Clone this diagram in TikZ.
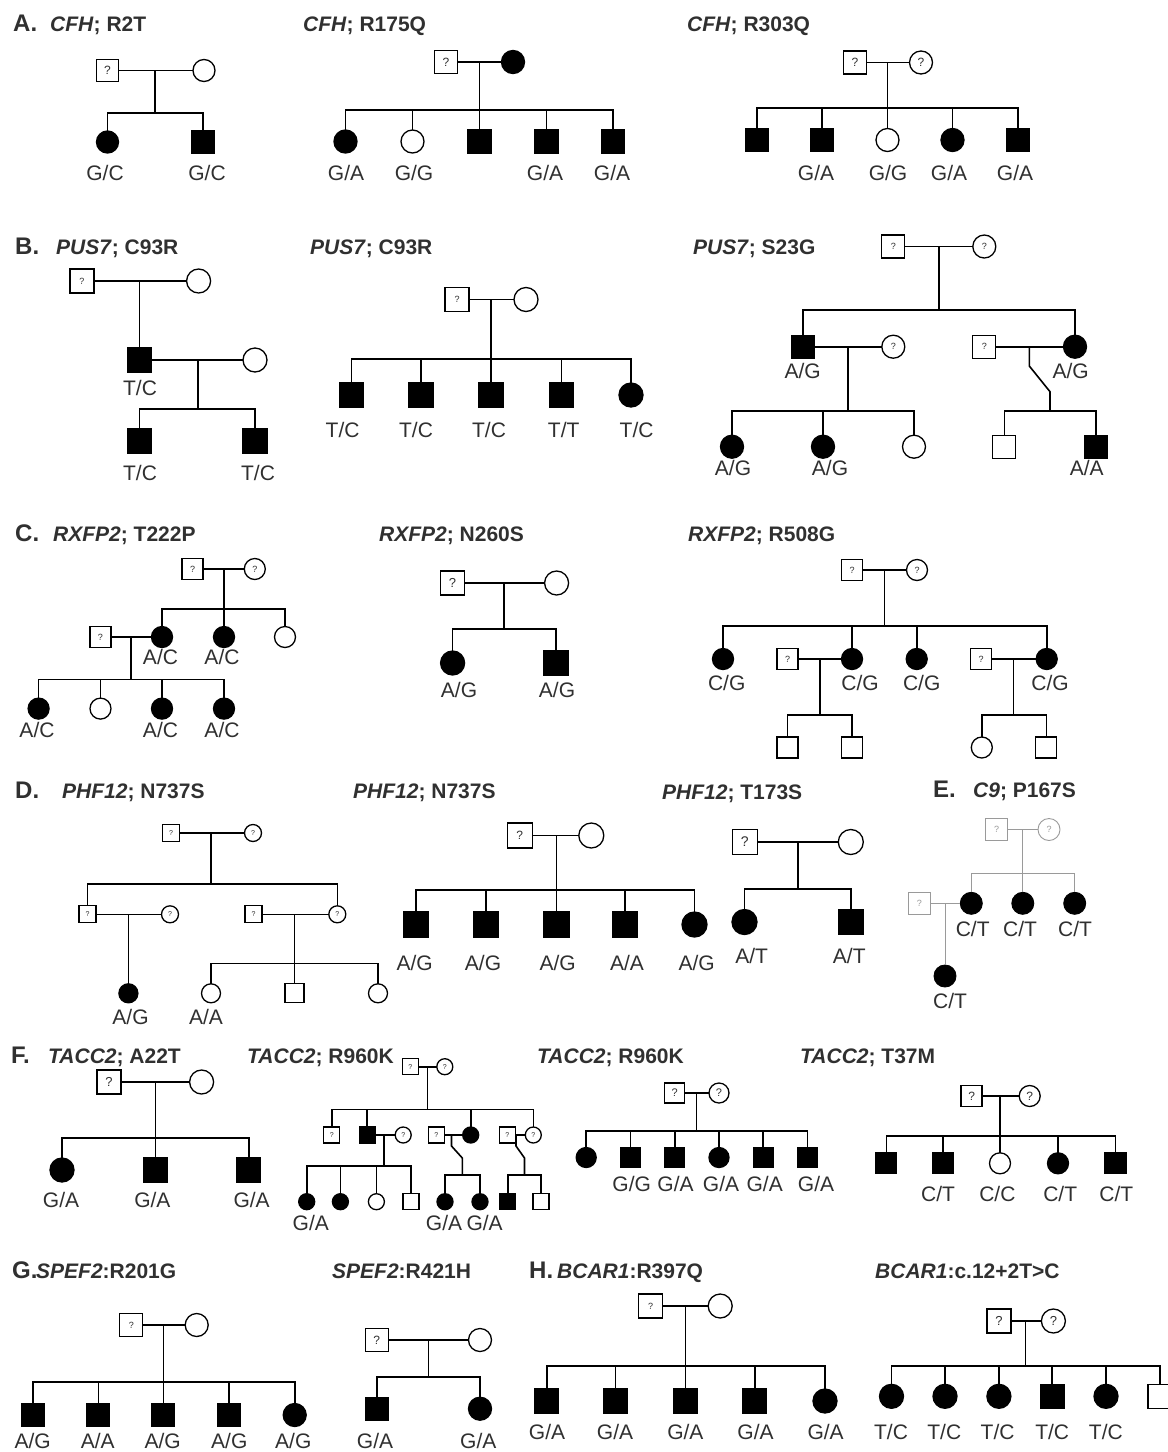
\documentclass[tikz,border=0pt]{standalone}
\usepackage{fontspec}
\setmainfont{Liberation Sans}
\definecolor{txt}{HTML}{303030}
\definecolor{gry}{HTML}{9A9A9A}
\tikzset{
  sym/.style={draw=black, line width=1.3pt, inner sep=0pt, outer sep=0pt},
  msq/.style={sym, rectangle, minimum size=#1, fill=white},
  msqf/.style={sym, rectangle, minimum size=#1, fill=black},
  fci/.style={sym, circle, minimum size=#1, fill=white},
  fcif/.style={sym, circle, minimum size=#1, fill=black},
  qm/.style={font=\fontsize{#1}{#1}\selectfont, text=txt},
  ln/.style={line width=1.6pt},
  lbl/.style={font=\fontsize{21}{21}\selectfont, text=txt, anchor=base, inner sep=0pt},
  ttl/.style={font=\fontsize{21}{21}\selectfont\bfseries, text=txt, anchor=base west, inner sep=0pt},
  panel/.style={font=\fontsize{24}{24}\selectfont\bfseries, text=txt, anchor=base west, inner sep=0pt},
}
\newcommand{\drops}[2]{\foreach \k in {#2} {\draw[ln] (\k.north) -- (\k.north |- #1);}}
\begin{document}
\begin{tikzpicture}[x=1pt,y=-1pt]
\path[use as bounding box, fill=white] (0,0) rectangle (1168,1452);

% ================= A =================
\node[panel] (tA) at (13,31) {A.};
\node[ttl] (tA1) at (50,31) {\textit{CFH}; R2T};
\node[ttl] (tA2) at (303,31) {\textit{CFH}; R175Q};
\node[ttl] (tA3) at (687,31) {\textit{CFH}; R303Q};

% A1
\node[msq=22, qm=12] (a1f) at (107.5,70.5) {?};
\node[fci=22] (a1m) at (204,70.5) {};
\draw[ln] (a1f) -- (a1m);
\coordinate (a1d) at (155,70.5);
\coordinate (a1s) at (155,113);
\draw[ln] (a1d) -- (a1s);
\node[fcif=22] (a1c1) at (107.5,142) {};
\node[msqf=22] (a1c2) at (203,142) {};
\draw[ln] (a1c1.north) |- (a1s) -| (a1c2.north);
\node[lbl] (a1g1) at (105,180) {G/C};
\node[lbl] (a1g2) at (207,180) {G/C};

% A2
\node[msq=23, qm=12] (a2f) at (446,62) {?};
\node[fcif=23] (a2m) at (513,62) {};
\draw[ln] (a2f) -- (a2m);
\coordinate (a2d) at (479.5,62);
\coordinate (a2s) at (479.5,110);
\draw[ln] (a2d) -- (a2s);
\node[fcif=23] (a2c1) at (345.5,141.5) {};
\node[fci=23] (a2c2) at (412.5,141.5) {};
\node[msqf=23] (a2c3) at (479.5,141.5) {};
\node[msqf=23] (a2c4) at (546.5,141.5) {};
\node[msqf=23] (a2c5) at (613,141.5) {};
\draw[ln] (a2c1.north) |- (a2s) -| (a2c5.north);
\drops{a2s}{a2c2,a2c3,a2c4}
\node[lbl] (a2g1) at (346,180) {G/A};
\node[lbl] (a2g2) at (414,180) {G/G};
\node[lbl] (a2g4) at (545,180) {G/A};
\node[lbl] (a2g5) at (612,180) {G/A};

% A3
\node[msq=23, qm=12] (a3f) at (855,62.5) {?};
\node[fci=23, qm=12] (a3m) at (921,62.5) {?};
\draw[ln] (a3f) -- (a3m);
\coordinate (a3d) at (887.5,62.5);
\coordinate (a3s) at (887.5,108);
\draw[ln] (a3d) -- (a3s);
\node[msqf=23] (a3c1) at (757,140) {};
\node[msqf=23] (a3c2) at (822,140) {};
\node[fci=23] (a3c3) at (887.5,140) {};
\node[fcif=23] (a3c4) at (952.5,140) {};
\node[msqf=23] (a3c5) at (1018,140) {};
\draw[ln] (a3c1.north) |- (a3s) -| (a3c5.north);
\drops{a3s}{a3c2,a3c3,a3c4}
\node[lbl] (a3g2) at (816,180) {G/A};
\node[lbl] (a3g3) at (888,180) {G/G};
\node[lbl] (a3g4) at (949,180) {G/A};
\node[lbl] (a3g5) at (1015,180) {G/A};

% ================= B =================
\node[panel] (tB) at (15,254) {B.};
\node[ttl] (tB1) at (56,254) {\textit{PUS7}; C93R};
\node[ttl] (tB2) at (310,254) {\textit{PUS7}; C93R};
\node[ttl] (tB3) at (693,254) {\textit{PUS7}; S23G};

% B1
\node[msq=24, qm=9] (b1f) at (82,281) {?};
\node[fci=24] (b1m) at (198.6,281) {};
\draw[ln] (b1f) -- (b1m);
\coordinate (b1d) at (139.5,281);
\node[msqf=24] (b1s) at (139.5,360) {};
\draw[ln] (b1d) -- (b1s.north);
\node[fci=24] (b1w) at (255,360) {};
\draw[ln] (b1s) -- (b1w);
\coordinate (b1d2) at (198,360);
\coordinate (b1s2) at (198,409);
\draw[ln] (b1d2) -- (b1s2);
\node[msqf=24] (b1c1) at (139.5,441) {};
\node[msqf=24] (b1c2) at (255,441) {};
\draw[ln] (b1c1.north) |- (b1s2) -| (b1c2.north);
\node[lbl] (b1g0) at (140,395) {T/C};
\node[lbl] (b1g1) at (140,480) {T/C};
\node[lbl] (b1g2) at (258,480) {T/C};

% B2
\node[msq=24, qm=9] (b2f) at (457,299.5) {?};
\node[fci=24] (b2m) at (526,299.5) {};
\draw[ln] (b2f) -- (b2m);
\coordinate (b2d) at (491,299.5);
\coordinate (b2s) at (491,359);
\draw[ln] (b2d) -- (b2s);
\node[msqf=24] (b2c1) at (351.5,395) {};
\node[msqf=24] (b2c2) at (421,395) {};
\node[msqf=24] (b2c3) at (491,395) {};
\node[msqf=24] (b2c4) at (561.6,395) {};
\node[fcif=24] (b2c5) at (631,395) {};
\draw[ln] (b2c1.north) |- (b2s) -| (b2c5.north);
\drops{b2s}{b2c2,b2c3,b2c4}
\node[lbl] (b2g1) at (342.6,437) {T/C};
\node[lbl] (b2g2) at (416,437) {T/C};
\node[lbl] (b2g3) at (489,437) {T/C};
\node[lbl] (b2g4) at (563.7,437) {T/T};
\node[lbl] (b2g5) at (636.6,437) {T/C};

% B3
\node[msq=23, qm=9] (b3f) at (893.3,246.5) {?};
\node[fci=23, qm=9] (b3m) at (984.3,246.5) {?};
\draw[ln] (b3f) -- (b3m);
\coordinate (b3d) at (938.7,246.5);
\coordinate (b3s) at (938.7,310);
\draw[ln] (b3d) -- (b3s);
\node[msqf=23] (b3c1) at (802.8,346.7) {};
\node[fci=23, qm=9] (b3w) at (893.3,346.7) {?};
\node[msq=23, qm=9] (b3h) at (984.3,346.7) {?};
\node[fcif=23] (b3c2) at (1075,346.7) {};
\draw[ln] (b3c1.north) |- (b3s) -| (b3c2.north);
\draw[ln] (b3c1) -- (b3w);
\draw[ln] (b3h) -- (b3c2);
\coordinate (b3d2) at (847.7,346.7);
\coordinate (b3s2) at (847.7,410.7);
\draw[ln] (b3d2) -- (b3s2);
\node[fcif=23] (b3k1) at (732,446.7) {};
\node[fcif=23] (b3k2) at (823,446.7) {};
\node[fci=23] (b3k3) at (914,446.7) {};
\draw[ln] (b3k1.north) |- (b3s2) -| (b3k3.north);
\drops{b3s2}{b3k2}
\coordinate (b3d3) at (1029.3,346.7);
\coordinate (b3e1) at (1029.3,366);
\coordinate (b3e2) at (1050,391.7);
\coordinate (b3s3) at (1050,410.7);
\draw[ln] (b3d3) -- (b3e1) -- (b3e2) -- (b3s3);
\node[msq=23] (b3k4) at (1004.3,446.7) {};
\node[msqf=23] (b3k5) at (1095.8,446.7) {};
\draw[ln] (b3k4.north) |- (b3s3) -| (b3k5.north);
\node[lbl] (b3g1) at (802.7,378.7) {A/G};
\node[lbl] (b3g2) at (1070.7,378.7) {A/G};
\node[lbl] (b3g3) at (733,475) {A/G};
\node[lbl] (b3g4) at (830,475) {A/G};
\node[lbl] (b3g5) at (1086.7,475) {A/A};

% ================= C =================
\node[panel] (tC) at (15,541) {C.};
\node[ttl] (tC1) at (53,541) {\textit{RXFP2}; T222P};
\node[ttl] (tC2) at (379,541) {\textit{RXFP2}; N260S};
\node[ttl] (tC3) at (688,541) {\textit{RXFP2}; R508G};

% C1
\node[msq=21, qm=9] (c1f) at (192.6,569) {?};
\node[fci=21, qm=9] (c1m) at (254.8,569) {?};
\draw[ln] (c1f) -- (c1m);
\coordinate (c1d) at (224,569);
\coordinate (c1s) at (224,609);
\draw[ln] (c1d) -- (c1s);
\node[fcif=21] (c1c1) at (162,637) {};
\node[fcif=21] (c1c2) at (224,637) {};
\node[fci=21] (c1c3) at (285,637) {};
\draw[ln] (c1c1.north) |- (c1s) -| (c1c3.north);
\drops{c1s}{c1c2}
\node[msq=21, qm=9] (c1h) at (100.5,637) {?};
\draw[ln] (c1h) -- (c1c1);
\coordinate (c1d2) at (131,637);
\coordinate (c1s2) at (131,679.3);
\draw[ln] (c1d2) -- (c1s2);
\node[fcif=21] (c1k1) at (38.6,708.6) {};
\node[fci=21] (c1k2) at (100.5,708.6) {};
\node[fcif=21] (c1k3) at (162,708.6) {};
\node[fcif=21] (c1k4) at (224,708.6) {};
\draw[ln] (c1k1.north) |- (c1s2) -| (c1k4.north);
\drops{c1s2}{c1k2,c1k3}
\node[lbl] (c1g1) at (160.5,664) {A/C};
\node[lbl] (c1g2) at (222,664) {A/C};
\node[lbl] (c1g3) at (37,737) {A/C};
\node[lbl] (c1g4) at (160.5,737) {A/C};
\node[lbl] (c1g5) at (222,737) {A/C};

% C2
\node[msq=24, qm=13] (c2f) at (452.6,583) {?};
\node[fci=24] (c2m) at (556.6,583) {};
\draw[ln] (c2f) -- (c2m);
\coordinate (c2d) at (504,583);
\coordinate (c2s) at (504,629);
\draw[ln] (c2d) -- (c2s);
\node[fcif=24] (c2c1) at (452.6,663) {};
\node[msqf=24] (c2c2) at (556,663) {};
\draw[ln] (c2c1.north) |- (c2s) -| (c2c2.north);
\node[lbl] (c2g1) at (459,697) {A/G};
\node[lbl] (c2g2) at (557,697) {A/G};

% C3
\node[msq=21, qm=9] (c3f) at (852,570) {?};
\node[fci=21, qm=9] (c3m) at (917,570) {?};
\draw[ln] (c3f) -- (c3m);
\coordinate (c3d) at (884.3,570);
\coordinate (c3s) at (884.3,626);
\draw[ln] (c3d) -- (c3s);
\node[fcif=21] (c3c1) at (723,659) {};
\node[msq=21, qm=9] (c3h1) at (787.5,659) {?};
\node[fcif=21] (c3c2) at (852,659) {};
\node[fcif=21] (c3c3) at (916.7,659) {};
\node[msq=21, qm=9] (c3h2) at (981,659) {?};
\node[fcif=21] (c3c4) at (1046.7,659) {};
\draw[ln] (c3c1.north) |- (c3s) -| (c3c4.north);
\drops{c3s}{c3c2,c3c3}
\draw[ln] (c3h1) -- (c3c2);
\draw[ln] (c3h2) -- (c3c4);
\coordinate (c3d2) at (820,659);
\coordinate (c3s2) at (820,715);
\draw[ln] (c3d2) -- (c3s2);
\coordinate (c3d3) at (1013.3,659);
\coordinate (c3s3) at (1013.3,715);
\draw[ln] (c3d3) -- (c3s3);
\node[msq=21] (c3k1) at (787.5,747.5) {};
\node[msq=21] (c3k2) at (852,747.5) {};
\node[fci=21] (c3k3) at (981.8,747.5) {};
\node[msq=21] (c3k4) at (1046.3,747.5) {};
\draw[ln] (c3k1.north) |- (c3s2) -| (c3k2.north);
\draw[ln] (c3k3.north) |- (c3s3) -| (c3k4.north);
\node[lbl] (c3g1) at (726.7,690) {C/G};
\node[lbl] (c3g2) at (860,690) {C/G};
\node[lbl] (c3g3) at (921.7,690) {C/G};
\node[lbl] (c3g4) at (1050,690) {C/G};

% ================= D / E =================
\node[panel] (tD) at (15,798) {D.};
\node[ttl] (tD1) at (62,798) {\textit{PHF12}; N737S};
\node[ttl] (tD2) at (353,798) {\textit{PHF12}; N737S};
\node[ttl] (tD3) at (662,799) {\textit{PHF12}; T173S};
\node[panel] (tE) at (933,797) {E.};
\node[ttl] (tE1) at (973,797) {\textit{C9}; P167S};

% D1
\node[msq=17, qm=7] (d1f) at (171,833) {?};
\node[fci=17, qm=7] (d1m) at (253,833) {?};
\draw[ln] (d1f) -- (d1m);
\coordinate (d1d) at (211,833);
\coordinate (d1s) at (211,884);
\draw[ln] (d1d) -- (d1s);
\node[msq=17, qm=7] (d1c1) at (87.5,914.3) {?};
\node[fci=17, qm=7] (d1w1) at (170,914.3) {?};
\node[msq=17, qm=7] (d1h2) at (253.5,914.3) {?};
\node[fci=17, qm=7] (d1c2) at (337.3,914.3) {?};
\draw[ln] (d1c1.north) |- (d1s) -| (d1c2.north);
\draw[ln] (d1c1) -- (d1w1);
\draw[ln] (d1h2) -- (d1c2);
\coordinate (d1d2) at (128.4,914.3);
\node[fcif=19] (d1k1) at (128.4,993.3) {};
\draw[ln] (d1d2) -- (d1k1.north);
\coordinate (d1d3) at (294.6,914.3);
\coordinate (d1s3) at (294.6,963.3);
\draw[ln] (d1d3) -- (d1s3);
\node[fci=19] (d1k2) at (211,993.3) {};
\node[msq=19] (d1k3) at (294.6,993.3) {};
\node[fci=19] (d1k4) at (378,993.3) {};
\draw[ln] (d1k2.north) |- (d1s3) -| (d1k4.north);
\drops{d1s3}{d1k3}
\node[lbl] (d1g1) at (130.5,1024) {A/G};
\node[lbl] (d1g2) at (206,1024) {A/A};

% D2
\node[msq=25, qm=12] (d2f) at (519.8,835.5) {?};
\node[fci=25] (d2m) at (591.3,835.5) {};
\draw[ln] (d2f) -- (d2m);
\coordinate (d2d) at (556.4,835.5);
\coordinate (d2s) at (556.4,890);
\draw[ln] (d2d) -- (d2s);
\node[msqf=25] (d2c1) at (416,924.5) {};
\node[msqf=25] (d2c2) at (486,924.5) {};
\node[msqf=25] (d2c3) at (556.4,924.5) {};
\node[msqf=25] (d2c4) at (625,924.5) {};
\node[fcif=25] (d2c5) at (694.5,924.5) {};
\draw[ln] (d2c1.north) |- (d2s) -| (d2c5.north);
\drops{d2s}{d2c2,d2c3,d2c4}
\node[lbl] (d2g1) at (414.6,970) {A/G};
\node[lbl] (d2g2) at (483,970) {A/G};
\node[lbl] (d2g3) at (557.7,970) {A/G};
\node[lbl] (d2g4) at (627,970) {A/A};
\node[lbl] (d2g5) at (696.7,970) {A/G};

% D3
\node[msq=25, qm=14] (d3f) at (744.7,842) {?};
\node[fci=25] (d3m) at (850.8,842) {};
\draw[ln] (d3f) -- (d3m);
\coordinate (d3d) at (797.7,842);
\coordinate (d3s) at (797.7,889);
\draw[ln] (d3d) -- (d3s);
\node[fcif=25] (d3c1) at (744.5,922) {};
\node[msqf=25] (d3c2) at (850.7,922) {};
\draw[ln] (d3c1.north) |- (d3s) -| (d3c2.north);
\node[lbl] (d3g1) at (751.7,963.7) {A/T};
\node[lbl] (d3g2) at (849.3,963.7) {A/T};

% E1 (grey)
\node[msq=22, qm=9, line width=0.9pt, draw=gry, text=gry] (e1f) at (996.7,829.5) {?};
\node[fci=22, qm=9, line width=0.9pt, draw=gry, text=gry] (e1m) at (1049,829.5) {?};
\node[msq=22, qm=9, line width=0.9pt, draw=gry, text=gry] (e1h) at (919.4,903.3) {?};
\node[fcif=22, line width=0.9pt] (e1c1) at (971.3,903.3) {};
\node[fcif=22, line width=0.9pt] (e1c2) at (1022.8,903.3) {};
\node[fcif=22, line width=0.9pt] (e1c3) at (1074.7,903.3) {};
\node[fcif=22, line width=0.9pt] (e1k1) at (945,976) {};
\coordinate (e1d) at (1022.7,829.5);
\coordinate (e1s) at (1022.7,873.3);
\coordinate (e1d2) at (945,903.3);
\begin{scope}[gry, line width=1pt]
\draw (e1f) -- (e1m);
\draw (e1d) -- (e1s);
\draw (e1c1.north) |- (e1s) -| (e1c3.north);
\draw (e1c2.north) -- (e1c2.north |- e1s);
\draw (e1h) -- (e1c1);
\draw (e1d2) -- (e1k1.north);
\end{scope}
\node[lbl] (e1g1) at (972.7,936.3) {C/T};
\node[lbl] (e1g2) at (1020,936.3) {C/T};
\node[lbl] (e1g3) at (1075,936.3) {C/T};
\node[lbl] (e1g4) at (950,1008.7) {C/T};

% ================= F =================
\node[panel] (tF) at (11,1063) {F.};
\node[ttl] (tF1) at (48,1063) {\textit{TACC2}; A22T};
\node[ttl] (tF2) at (247,1063) {\textit{TACC2}; R960K};
\node[ttl] (tF3) at (537,1063) {\textit{TACC2}; R960K};
\node[ttl] (tF4) at (800,1063) {\textit{TACC2}; T37M};

% F1
\node[msq=24, qm=13] (f1f) at (109,1082) {?};
\node[fci=24] (f1m) at (201.6,1082) {};
\draw[ln] (f1f) -- (f1m);
\coordinate (f1d) at (155.4,1082);
\coordinate (f1s) at (155.4,1138);
\draw[ln] (f1d) -- (f1s);
\node[fcif=24] (f1c1) at (62,1170) {};
\node[msqf=24] (f1c2) at (155.4,1170) {};
\node[msqf=24] (f1c3) at (248.8,1170) {};
\draw[ln] (f1c1.north) |- (f1s) -| (f1c3.north);
\drops{f1s}{f1c2}
\node[lbl] (f1g1) at (61,1207) {G/A};
\node[lbl] (f1g2) at (152.4,1207) {G/A};
\node[lbl] (f1g3) at (251.6,1207) {G/A};

% F2
\node[msq=16, qm=7] (f2f) at (410.3,1066.7) {?};
\node[fci=16, qm=7] (f2m) at (444.8,1066.7) {?};
\draw[ln] (f2f) -- (f2m);
\coordinate (f2d) at (427.3,1066.7);
\coordinate (f2s) at (427.3,1109.3);
\draw[ln] (f2d) -- (f2s);
\node[msq=16, qm=7] (f2c1) at (331.7,1135) {?};
\node[msqf=16] (f2c2) at (367.2,1135) {};
\node[fci=16, qm=7] (f2w2) at (403.2,1135) {?};
\node[msq=16, qm=7] (f2h3) at (436.2,1135) {?};
\node[fcif=16] (f2c3) at (470.7,1135) {};
\node[msq=16, qm=7] (f2h4) at (507.2,1135) {?};
\node[fci=16, qm=7] (f2c4) at (533.3,1135) {?};
\draw[ln] (f2c1.north) |- (f2s) -| (f2c4.north);
\drops{f2s}{f2c2,f2c3}
\draw[ln] (f2c2) -- (f2w2);
\draw[ln] (f2h3) -- (f2c3);
\draw[ln] (f2h4) -- (f2c4);
\coordinate (f2d2) at (384,1135);
\coordinate (f2s2) at (384,1166);
\draw[ln] (f2d2) -- (f2s2);
\node[fcif=16] (f2k1) at (306.7,1201.7) {};
\node[fcif=16] (f2k2) at (340.4,1201.7) {};
\node[fci=16] (f2k3) at (376.4,1201.7) {};
\node[msq=16] (f2k4) at (411,1201.7) {};
\draw[ln] (f2k1.north) |- (f2s2) -| (f2k4.north);
\drops{f2s2}{f2k2,f2k3}
\coordinate (f2d3) at (451.5,1135);
\coordinate (f2e3) at (451.5,1146);
\coordinate (f2e4) at (462.3,1158);
\coordinate (f2s3) at (462.3,1175);
\draw[ln] (f2d3) -- (f2e3) -- (f2e4) -- (f2s3);
\node[fcif=16] (f2k5) at (445,1201.7) {};
\node[fcif=16] (f2k6) at (480,1201.7) {};
\draw[ln] (f2k5.north) |- (f2s3) -| (f2k6.north);
\coordinate (f2d4) at (516,1135);
\coordinate (f2e5) at (516,1146);
\coordinate (f2e6) at (524.5,1158);
\coordinate (f2s4) at (524.5,1175);
\draw[ln] (f2d4) -- (f2e5) -- (f2e6) -- (f2s4);
\node[msqf=16] (f2k7) at (507.7,1201.7) {};
\node[msq=16] (f2k8) at (541,1201.7) {};
\draw[ln] (f2k7.north) |- (f2s4) -| (f2k8.north);
\node[lbl] (f2g1) at (310.8,1230) {G/A};
\node[lbl] (f2g2) at (444,1230) {G/A};
\node[lbl] (f2g3) at (484.6,1230) {G/A};

% F3
\node[msq=20, qm=11] (f3f) at (674.8,1093) {?};
\node[fci=20, qm=11] (f3m) at (719,1093) {?};
\draw[ln] (f3f) -- (f3m);
\coordinate (f3d) at (696.5,1093);
\coordinate (f3s) at (696.5,1130.7);
\draw[ln] (f3d) -- (f3s);
\node[fcif=20] (f3c1) at (586.2,1157.5) {};
\node[msqf=20] (f3c2) at (630.4,1157.5) {};
\node[msqf=20] (f3c3) at (674.8,1157.5) {};
\node[fcif=20] (f3c4) at (719,1157.5) {};
\node[msqf=20] (f3c5) at (763.2,1157.5) {};
\node[msqf=20] (f3c6) at (807.6,1157.5) {};
\draw[ln] (f3c1.north) |- (f3s) -| (f3c6.north);
\drops{f3s}{f3c2,f3c3,f3c4,f3c5}
\node[lbl] (f3g2) at (631.7,1191) {G/G};
\node[lbl] (f3g3) at (675.5,1191) {G/A};
\node[lbl] (f3g4) at (721,1191) {G/A};
\node[lbl] (f3g5) at (764.7,1191) {G/A};
\node[lbl] (f3g6) at (816,1191) {G/A};

% F4
\node[msq=21, qm=12] (f4f) at (971.6,1096) {?};
\node[fci=21, qm=12] (f4m) at (1029.7,1096) {?};
\draw[ln] (f4f) -- (f4m);
\coordinate (f4d) at (1000,1096);
\coordinate (f4s) at (1000,1136);
\draw[ln] (f4d) -- (f4s);
\node[msqf=21] (f4c1) at (886.3,1163.3) {};
\node[msqf=21] (f4c2) at (943,1163.3) {};
\node[fci=21] (f4c3) at (1000,1163.3) {};
\node[fcif=21] (f4c4) at (1058,1163.3) {};
\node[msqf=21] (f4c5) at (1115.4,1163.3) {};
\draw[ln] (f4c1.north) |- (f4s) -| (f4c5.north);
\drops{f4s}{f4c2,f4c3,f4c4}
\node[lbl] (f4g2) at (938,1201) {C/T};
\node[lbl] (f4g3) at (997.4,1201) {C/C};
\node[lbl] (f4g4) at (1060.2,1201) {C/T};
\node[lbl] (f4g5) at (1116.4,1201) {C/T};

% ================= G / H =================
\node[panel] (tG) at (12,1278) {G.};
\node[ttl] (tG1) at (36,1278) {\textit{SPEF2}:R201G};
\node[ttl] (tG2) at (332,1278) {\textit{SPEF2}:R421H};
\node[panel] (tH) at (529,1278) {H.};
\node[ttl] (tH1) at (557,1278) {\textit{BCAR1}:R397Q};
\node[ttl] (tH2) at (875,1278) {\textit{BCAR1}:c.12+2T>C};

% G1
\node[msq=23, qm=9] (g1f) at (131.3,1325) {?};
\node[fci=23] (g1m) at (196.7,1325) {};
\draw[ln] (g1f) -- (g1m);
\coordinate (g1d) at (163.3,1325);
\coordinate (g1s) at (163.3,1381.7);
\draw[ln] (g1d) -- (g1s);
\node[msqf=23] (g1c1) at (32.8,1415) {};
\node[msqf=23] (g1c2) at (98.3,1415) {};
\node[msqf=23] (g1c3) at (163.3,1415) {};
\node[msqf=23] (g1c4) at (228.7,1415) {};
\node[fcif=23] (g1c5) at (294.7,1415) {};
\draw[ln] (g1c1.north) |- (g1s) -| (g1c5.north);
\drops{g1s}{g1c2,g1c3,g1c4}
\node[lbl] (g1g1) at (32.7,1448.5) {A/G};
\node[lbl] (g1g2) at (97.7,1448.5) {A/A};
\node[lbl] (g1g3) at (162.7,1448.5) {A/G};
\node[lbl] (g1g4) at (229.3,1448.5) {A/G};
\node[lbl] (g1g5) at (293.3,1448.5) {A/G};

% G2
\node[msq=23, qm=12] (g2f) at (376.7,1340) {?};
\node[fci=23] (g2m) at (480,1340) {};
\draw[ln] (g2f) -- (g2m);
\coordinate (g2d) at (428.3,1340);
\coordinate (g2s) at (428.3,1376.7);
\draw[ln] (g2d) -- (g2s);
\node[msqf=23] (g2c1) at (376.7,1408.7) {};
\node[fcif=23] (g2c2) at (480,1408.7) {};
\draw[ln] (g2c1.north) |- (g2s) -| (g2c2.north);
\node[lbl] (g2g1) at (375,1448.5) {G/A};
\node[lbl] (g2g2) at (478.3,1448.5) {G/A};

% H1
\node[msq=24, qm=9] (h1f) at (650.6,1306) {?};
\node[fci=24] (h1m) at (720.2,1306) {};
\draw[ln] (h1f) -- (h1m);
\coordinate (h1d) at (685.4,1306);
\coordinate (h1s) at (685.4,1366);
\draw[ln] (h1d) -- (h1s);
\node[msqf=24] (h1c1) at (546.7,1401) {};
\node[msqf=24] (h1c2) at (615.3,1401) {};
\node[msqf=24] (h1c3) at (685.4,1401) {};
\node[msqf=24] (h1c4) at (754.8,1401) {};
\node[fcif=24] (h1c5) at (825,1401) {};
\draw[ln] (h1c1.north) |- (h1s) -| (h1c5.north);
\drops{h1s}{h1c2,h1c3,h1c4}
\node[lbl] (h1g1) at (547,1439.7) {G/A};
\node[lbl] (h1g2) at (615,1439.7) {G/A};
\node[lbl] (h1g3) at (685.4,1439.7) {G/A};
\node[lbl] (h1g4) at (755.5,1439.7) {G/A};
\node[lbl] (h1g5) at (825.6,1439.7) {G/A};

% H2
\node[msq=24, qm=13] (h2f) at (998.9,1321) {?};
\node[fci=24, qm=13] (h2m) at (1053.4,1321) {?};
\draw[ln] (h2f) -- (h2m);
\coordinate (h2d) at (1025.3,1321);
\coordinate (h2s) at (1025.3,1366);
\draw[ln] (h2d) -- (h2s);
\node[fcif=24] (h2c1) at (891.5,1396.3) {};
\node[fcif=24] (h2c2) at (945,1396.3) {};
\node[fcif=24] (h2c3) at (998.9,1396.3) {};
\node[msqf=24] (h2c4) at (1052.2,1396.3) {};
\node[fcif=24] (h2c5) at (1106,1396.3) {};
\node[msq=24] (h2c6) at (1160,1396.3) {};
\draw[ln] (h2c1.north) |- (h2s) -| (h2c6.north);
\drops{h2s}{h2c2,h2c3,h2c4,h2c5}
\node[lbl] (h2g1) at (891,1439.7) {T/C};
\node[lbl] (h2g2) at (944.3,1439.7) {T/C};
\node[lbl] (h2g3) at (997.6,1439.7) {T/C};
\node[lbl] (h2g4) at (1052.2,1439.7) {T/C};
\node[lbl] (h2g5) at (1105.9,1439.7) {T/C};
\end{tikzpicture}
\end{document}
